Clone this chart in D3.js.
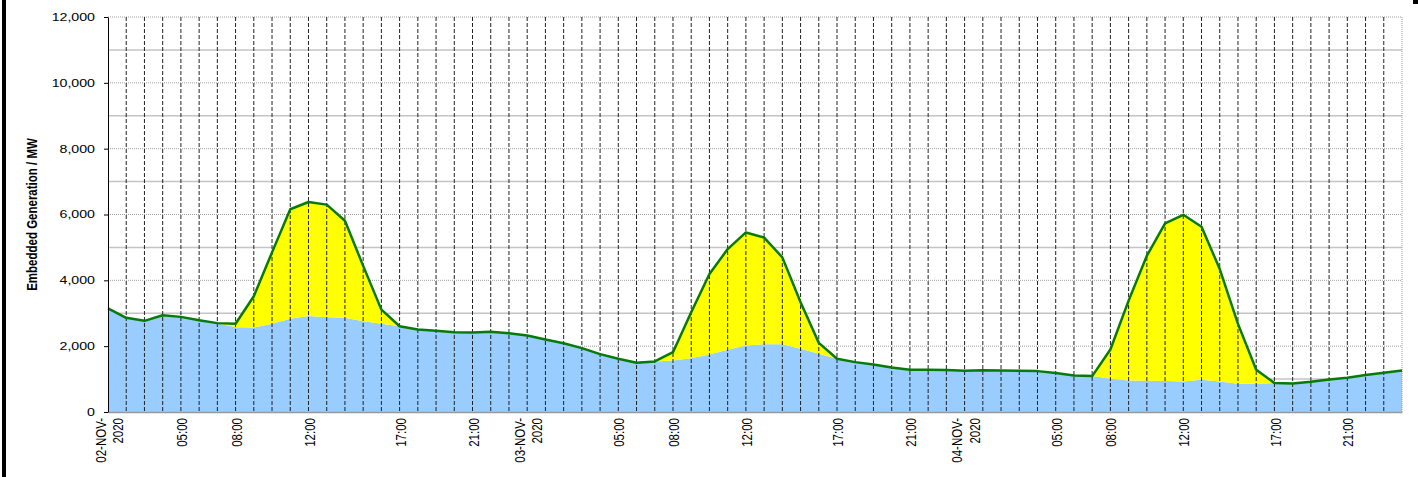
<!DOCTYPE html>
<html>
<head>
<meta charset="utf-8">
<script src="https://cdn.jsdelivr.net/npm/d3@7"></script>
<style>
  body { margin: 0; background: #fff; }
  text { font-family: "Liberation Sans", Arial, sans-serif; fill: #000; }
</style>
</head>
<body>
<div id="chart"></div>
<script>
// hourly periods, 02-NOV-2020 01:00 .. 05-NOV-2020 00:00 (72 points)
const baseMW = [
  3150, 2860, 2770, 2940, 2890, 2790, 2700, 2575, 2565, 2680, 2830, 2920,
  2880, 2860, 2760, 2680, 2606, 2505, 2465, 2425, 2415, 2435, 2395, 2325,
  2200, 2090, 1940, 1758, 1616, 1495, 1535, 1565, 1636, 1750, 1890, 2020,
  2060, 2060, 1920, 1770, 1616, 1515, 1444, 1354, 1283, 1283, 1273, 1252,
  1268, 1263, 1252, 1242, 1182, 1111, 1091, 1010, 960, 950, 940, 930,
  980, 930, 859, 859, 879, 869, 920, 990, 1040, 1121, 1192, 1263
];
const solarMW = [
  0, 0, 0, 0, 0, 0, 0, 105, 950, 2170, 3330, 3460,
  3420, 2950, 1680, 430, 0, 0, 0, 0, 0, 0, 0, 0,
  0, 0, 0, 0, 0, 0, 0, 253, 1394, 2440, 3060, 3435,
  3240, 2637, 1413, 330, 0, 0, 0, 0, 0, 0, 0, 0,
  0, 0, 0, 0, 0, 0, 0, 890, 2424, 3797, 4787, 5060,
  4646, 3413, 1818, 424, 0, 0, 0, 0, 0, 0, 0, 0
];
const xTickIndex = [0, 4, 7, 11, 16, 20, 23, 28, 31, 35, 40, 44, 47, 52, 55, 59, 64, 68];
const xTickLabels = ["02-NOV-2020", "05:00", "08:00", "12:00", "17:00", "21:00",
  "03-NOV-2020", "05:00", "08:00", "12:00", "17:00", "21:00",
  "04-NOV-2020", "05:00", "08:00", "12:00", "17:00", "21:00"];
const yTicks = [0, 2000, 4000, 6000, 8000, 10000, 12000];

const W = 1418, H = 477;
const plotL = 108, plotR = 1402, plotT = 17, plotB = 412;

const svg = d3.select("#chart").append("svg")
  .attr("width", W).attr("height", H);

const x = d3.scaleLinear().domain([0, baseMW.length - 1]).range([plotL, plotR]);
const y = d3.scaleLinear().domain([0, 12000]).range([plotB, plotT]);

const rows = baseMW.map((b, i) => ({ i: i, base: b, solar: solarMW[i] }));
const stacked = d3.stack().keys(["base", "solar"])(rows);

// horizontal grid
const hGrid = d3.range(1000, 12001, 1000);
svg.append("g").selectAll("line")
  .data(hGrid)
  .enter().append("line")
  .attr("x1", plotL).attr("x2", plotR)
  .attr("y1", d => y(d)).attr("y2", d => y(d))
  .attr("stroke", d => d % 2000 === 0 ? "#a0a0a0" : "#c4c4c4")
  .attr("stroke-width", d => d % 2000 === 0 ? 1 : 1.5)
  .attr("stroke-dasharray", d => d % 2000 === 0 ? "1,1" : null);

// areas
const area = d3.area()
  .x(d => x(d.data.i))
  .y0(d => y(d[0]))
  .y1(d => y(d[1]));

svg.append("g").selectAll("path")
  .data(stacked)
  .enter().append("path")
  .attr("d", area)
  .attr("fill", d => d.key === "base" ? "#99ccff" : "#ffff00");

// vertical grid, one per hour
svg.append("g").selectAll("line")
  .data(d3.range(1, baseMW.length - 1))
  .enter().append("line")
  .attr("x1", d => x(d)).attr("x2", d => x(d))
  .attr("y1", plotT).attr("y2", plotB)
  .attr("stroke", "#222")
  .attr("stroke-dasharray", "4,2");

svg.append("line")
  .attr("x1", x(baseMW.length - 1)).attr("x2", x(baseMW.length - 1))
  .attr("y1", plotT).attr("y2", plotB)
  .attr("stroke", "#999")
  .attr("stroke-dasharray", "1,1");

// total line
const line = d3.line()
  .x(d => x(d.data.i))
  .y(d => y(d[1]));

svg.append("path")
  .datum(stacked[1])
  .attr("d", line)
  .attr("fill", "none")
  .attr("stroke", "#087a08")
  .attr("stroke-width", 2.5)
  .attr("stroke-linejoin", "round");

// x axis
const xAxis = svg.append("g")
  .attr("transform", `translate(0,${plotB})`)
  .call(d3.axisBottom(x).tickValues(xTickIndex).tickSize(0).tickSizeOuter(0).tickFormat(""));
xAxis.select(".domain").attr("stroke", "#999").attr("stroke-width", 1.5);

xAxis.selectAll(".tick").each(function (d, k) {
  const label = xTickLabels[k];
  const t = d3.select(this).append("text")
    .attr("transform", "translate(0,6) rotate(-90) scale(1,1.35)")
    .attr("text-anchor", "end")
    .style("font-size", "11.5px")
    .style("fill", "#000");
  if (label.length > 5) {
    t.append("tspan").attr("x", 0).attr("dy", "-0.19em").text(label.slice(0, 7));
    t.append("tspan").attr("x", 0).attr("dy", "1.12em").text(label.slice(7));
  } else {
    t.append("tspan").attr("x", 0).attr("dy", "0.36em").text(label);
  }
});

// y axis
const yAxis = svg.append("g")
  .attr("transform", `translate(${plotL},0)`)
  .call(d3.axisLeft(y).tickValues(yTicks).tickSize(4).tickSizeOuter(0).tickPadding(9)
    .tickFormat(d3.format(",")));
yAxis.select(".domain").attr("stroke", "#000");
yAxis.selectAll(".tick line").attr("stroke", "#000");
yAxis.selectAll(".tick text")
  .attr("x", -13 / 1.35)
  .attr("transform", "scale(1.35,1)")
  .style("font-size", "10.5px")
  .style("font-family", "'Liberation Sans', Arial, sans-serif")
  .style("fill", "#000");

// y title
svg.append("text")
  .attr("transform", `translate(37,${(plotT + plotB) / 2}) rotate(-90) scale(1,1.3)`)
  .attr("text-anchor", "middle")
  .style("font-size", "11.5px")
  .style("font-weight", "bold")
  .text("Embedded Generation / MW");

// frame marks
svg.append("rect").attr("x", 2).attr("y", 0).attr("width", 4).attr("height", H).attr("fill", "#000");
svg.append("rect").attr("x", 1413).attr("y", 0).attr("width", 5).attr("height", 4).attr("fill", "#000");
</script>
</body>
</html>
